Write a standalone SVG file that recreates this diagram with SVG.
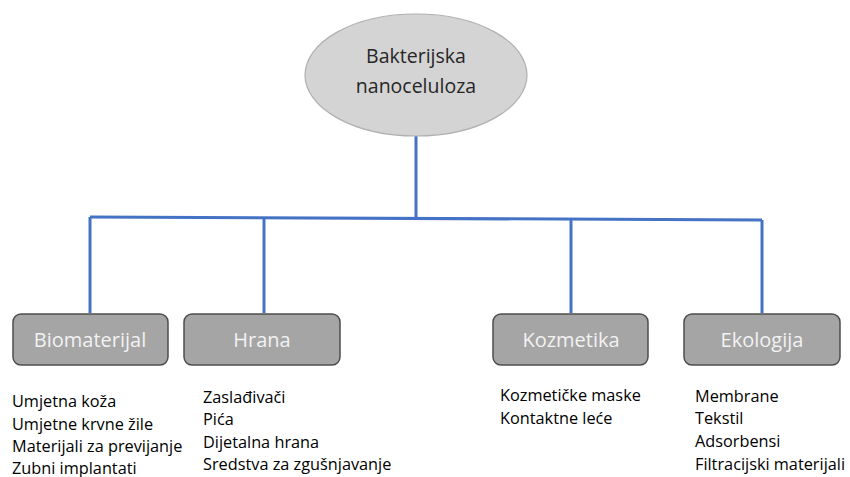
<svg xmlns="http://www.w3.org/2000/svg" width="850" height="477" viewBox="0 0 850 477">
<style>
.box{fill:#a5a5a5;stroke:#4d4d4d;stroke-width:1.5}
.lbl{font-family:"Open Sans","Liberation Sans",sans-serif;font-size:20px;fill:#f2f2f2;text-anchor:middle}
.item{font-family:"Open Sans","Liberation Sans",sans-serif;font-size:16.3px;fill:#000}
.conn{stroke:#4472c4;stroke-width:3;fill:none}
</style>
<rect width="850" height="477" fill="#fff"/>
<g id="connectors">
<path class="conn" d="M416 136 V217"/>
<path class="conn" d="M90 217 L762 220"/>
<path class="conn" d="M90 217 V313"/>
<path class="conn" d="M264 218 V313"/>
<path class="conn" d="M571 219 V313"/>
<path class="conn" d="M762 220 V313"/>
</g>
<g id="root">
<ellipse cx="416" cy="75" rx="111" ry="61" fill="#d4d4d4" stroke="#b0b0b0" stroke-width="1.2"/>
<text x="416" y="63" text-anchor="middle" font-family="Open Sans, Liberation Sans, sans-serif" font-size="19.5" fill="#262626">Bakterijska</text>
<text x="416" y="93" text-anchor="middle" font-family="Open Sans, Liberation Sans, sans-serif" font-size="19.5" fill="#262626">nanoceluloza</text>
</g>
<g id="biomaterijal">
<rect class="box" x="13" y="314" width="155" height="51" rx="8"/>
<text class="lbl" x="90" y="347">Biomaterijal</text>
<text class="item" x="12" y="407">Umjetna koža</text>
<text class="item" x="12" y="430">Umjetne krvne žile</text>
<text class="item" x="12" y="452">Materijali za previjanje</text>
<text class="item" x="12" y="474">Zubni implantati</text>
</g>
<g id="hrana">
<rect class="box" x="184" y="314" width="156" height="51" rx="8"/>
<text class="lbl" x="262" y="347">Hrana</text>
<text class="item" x="203" y="403">Zaslađivači</text>
<text class="item" x="203" y="425">Pića</text>
<text class="item" x="203" y="448">Dijetalna hrana</text>
<text class="item" x="203" y="470">Sredstva za zgušnjavanje</text>
</g>
<g id="kozmetika">
<rect class="box" x="493" y="314" width="155" height="51" rx="8"/>
<text class="lbl" x="571" y="347">Kozmetika</text>
<text class="item" x="500" y="401">Kozmetičke maske</text>
<text class="item" x="500" y="424">Kontaktne leće</text>
</g>
<g id="ekologija">
<rect class="box" x="684" y="314" width="156" height="51" rx="8"/>
<text class="lbl" x="762" y="347">Ekologija</text>
<text class="item" x="695" y="402">Membrane</text>
<text class="item" x="695" y="424">Tekstil</text>
<text class="item" x="695" y="447">Adsorbensi</text>
<text class="item" x="695" y="470">Filtracijski materijali</text>
</g>
</svg>
